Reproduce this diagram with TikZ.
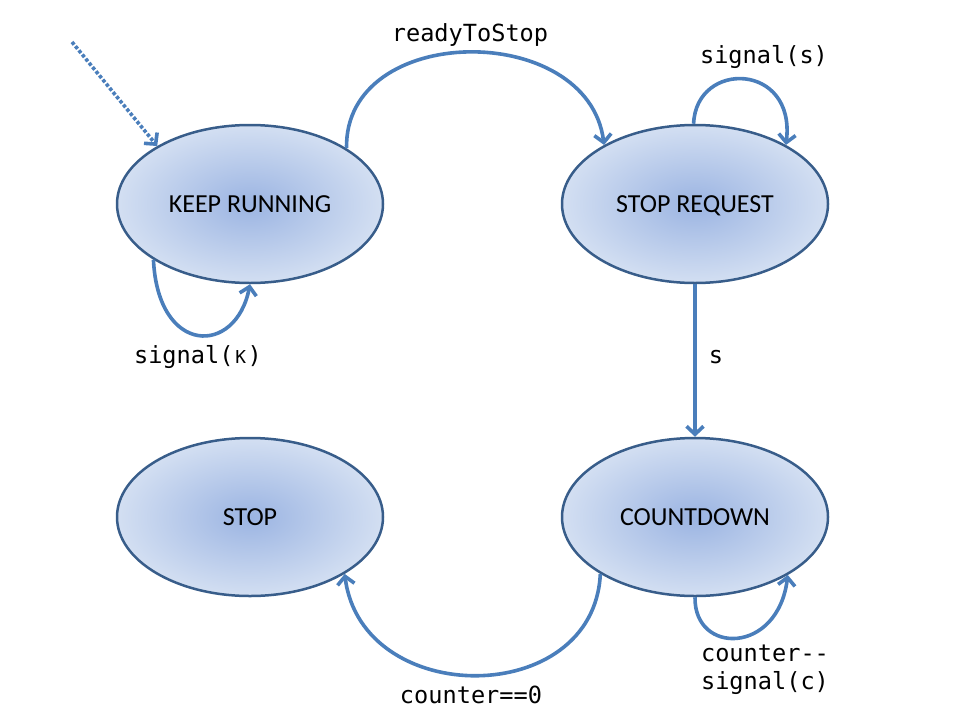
\documentclass[tikz,border=0pt]{standalone}
\usepackage{fontspec}
\usetikzlibrary{shapes.geometric,arrows.meta}
\newfontfamily\statefam{Carlito}
\newfontfamily\monofam{DejaVu Sans Mono}
\definecolor{arrc}{RGB}{74,126,187}
\definecolor{bordc}{RGB}{56,93,138}
\definecolor{fillin}{RGB}{155,180,226}
\definecolor{fillout}{RGB}{211,223,242}
\newcommand{\smk}{\makebox[14.2pt]{\fontsize{17.8pt}{20pt}\selectfont K}}
\tikzset{
  state/.style={ellipse, draw=bordc, line width=2.5pt, inner color=fillin, outer color=fillout,
    minimum width=266pt, minimum height=158pt, inner sep=0pt, text depth=0pt,
    font={\statefam\fontsize{26pt}{30pt}\selectfont}, text=black},
  arr/.style={draw=arrc, line width=3.6pt, -{Straight Barb[length=8pt,width=17pt]}},
  lbl/.style={font={\monofam\fontsize{23.6pt}{29pt}\selectfont}, text=black, inner sep=0pt, anchor=base}
}
\begin{document}
\begin{tikzpicture}[x=1pt,y=-1pt]
\useasboundingbox (0,0) rectangle (960,720);
\node[state] (kr) at (250,204) {KEEP RUNNING};
\node[state] (sr) at (695,204) {STOP REQUEST};
\node[state] (st) at (250,517) {STOP};
\node[state] (cd) at (695,517) {COUNTDOWN};
\coordinate (init) at (72,42);
% initial
\draw[arr, line width=3.6pt, dash pattern=on 3.4pt off 2pt] (init) -- (kr.148);
% readyToStop
\draw[arr] (kr.30) .. controls (344,22) and (588,20) .. (sr.147);
\node[lbl] (lready) at (470,41) {readyToStop};
% signal(s) self loop
\draw[arr] (sr.91) .. controls (696,60) and (796,62) .. (sr.33);
\node[lbl] (lsigs) at (764,63) {signal(s)};
% signal(k) self loop
\draw[arr] (kr.210) .. controls (158,356) and (236,356) .. (kr.270);
\node[lbl] (lsigk) at (198,363) {signal(\smk)};
% s
\draw[arr] (sr.south) -- (cd.north);
\node[lbl] (ls) at (716,363) {s};
% counter==0
\draw[arr] (cd.211) .. controls (594,709) and (362,709) .. (st.329);
\node[lbl] (lcz) at (471,703) {counter==0};
% counter-- self loop
\draw[arr] (cd.270) .. controls (694,655) and (778,655) .. (cd.328);
\node[lbl, align=center] (lcd) at (765,689) {counter--\\[-1pt]signal(c)};
\end{tikzpicture}
\end{document}
